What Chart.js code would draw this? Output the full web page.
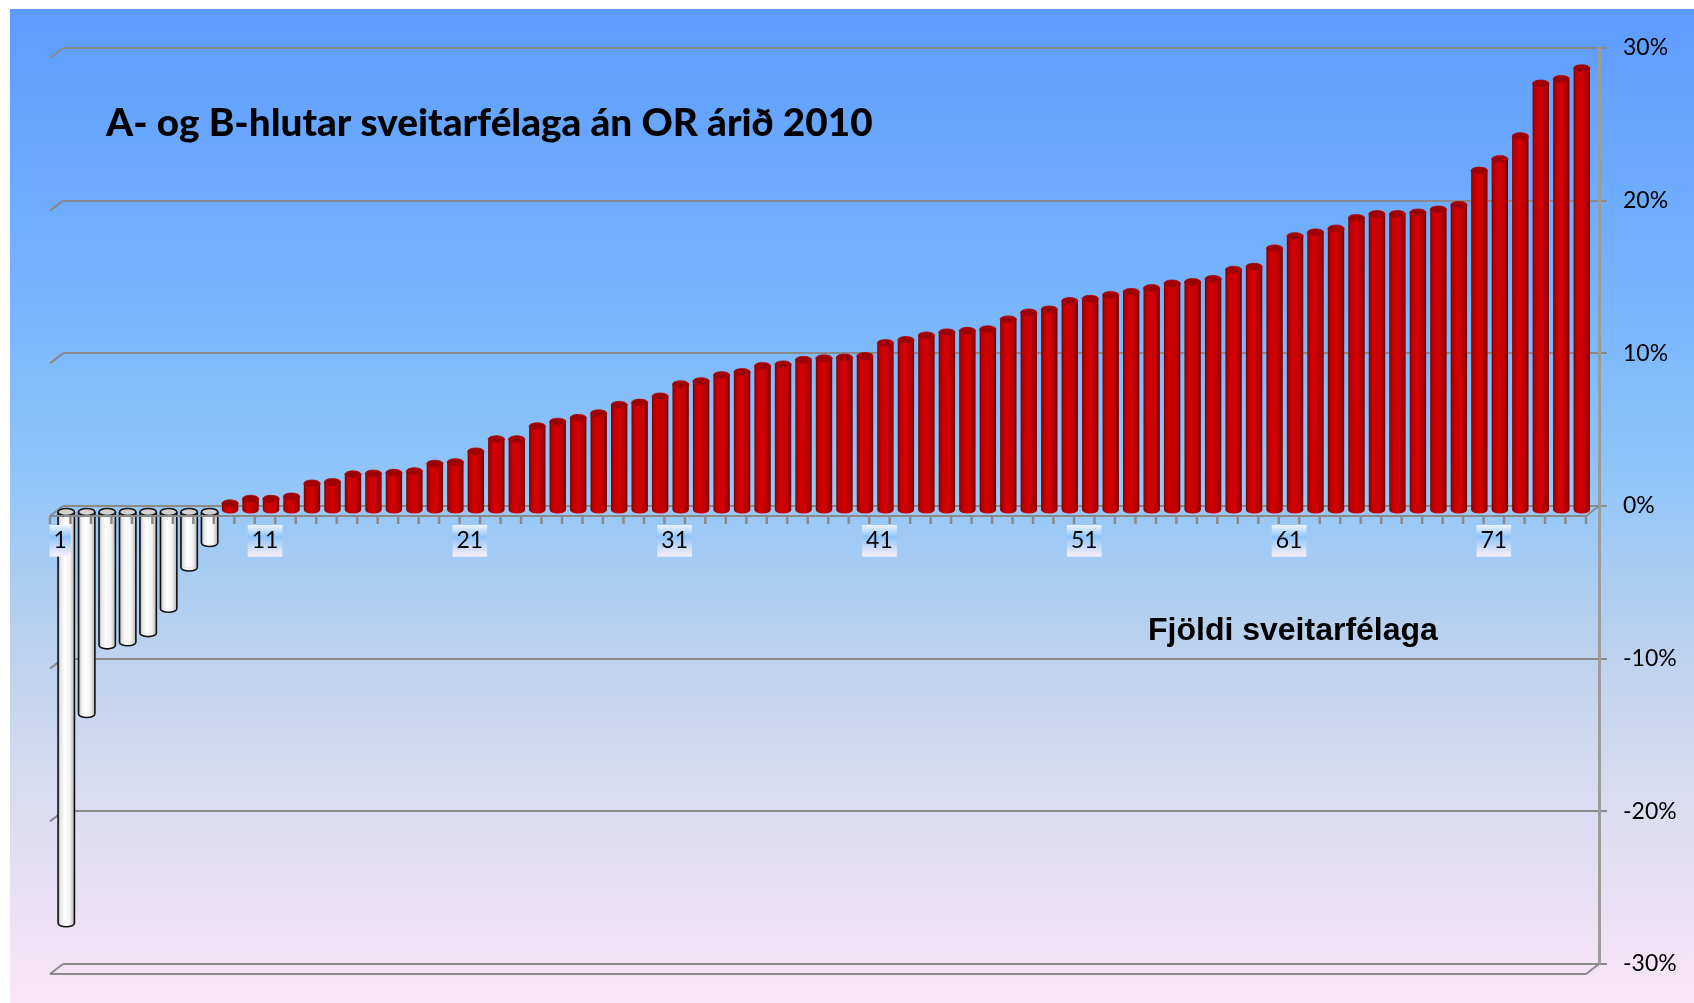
<!DOCTYPE html>
<html>
<head>
<meta charset="utf-8">
<script src="https://cdn.jsdelivr.net/npm/chart.js@4/dist/chart.umd.min.js"></script>
<style>
html,body{margin:0;padding:0;background:#fff;}
canvas{display:block;}
</style>
</head>
<body>
<canvas id="c" width="1694" height="1003"></canvas>
<script>
// ---------- DATA ----------
const categories = ['1','2','3','4','5','6','7','8','9','10','11','12','13','14','15','16','17','18','19','20',
  '21','22','23','24','25','26','27','28','29','30','31','32','33','34','35','36','37','38','39','40',
  '41','42','43','44','45','46','47','48','49','50','51','52','53','54','55','56','57','58','59','60',
  '61','62','63','64','65','66','67','68','69','70','71','72','73','74','75'];
const values = [-27.0, -13.3, -8.8, -8.6, -8.0, -6.4, -3.7, -2.1,
  0.5, 0.8, 0.8, 0.95, 1.8, 1.9, 2.4, 2.45, 2.5, 2.6, 3.1, 3.2,
  3.9, 4.7, 4.7, 5.55, 5.85, 6.1, 6.4, 6.95, 7.1, 7.5,
  8.3, 8.5, 8.9, 9.1, 9.5, 9.6, 9.9, 10.0, 10.05, 10.15,
  11.0, 11.2, 11.5, 11.7, 11.8, 11.9, 12.55, 13.0, 13.2, 13.75,
  13.9, 14.15, 14.35, 14.6, 14.9, 15.0, 15.2, 15.8, 16.0, 17.2,
  18.0, 18.25, 18.5, 19.2, 19.45, 19.45, 19.55, 19.75, 20.05, 22.3,
  23.05, 24.55, 28.0, 28.3, 29.0];
const shownTickLabels = ['1','11','21','31','41','51','61','71'];
const yMin = -30, yMax = 30, yStep = 10;
const titleText = 'A- og B-hlutar sveitarfélaga án OR árið 2010';
const xTitleText = 'Fjöldi sveitarfélaga';

// ---------- STYLE ----------
const DEPTH_X = 13, DEPTH_Y = 10;   // back wall -> front edge offset
const BAR_DX = -7, BAR_DY = 5;      // bars sit half-way in depth
const GRID = '#8a8a8a';
const BAR_FRACTION = 0.8;

function barHalfWidth(chart) {
  const xs = chart.scales.x;
  return xs.width / categories.length * BAR_FRACTION / 2;
}

function barFill(c) {
  const chart = c.chart;
  const xs = chart.scales.x;
  const v = c.raw;
  if (!xs || c.dataIndex == null || !chart.chartArea) return v < 0 ? '#ffffff' : '#c80000';
  const cx = xs.getPixelForValue(c.dataIndex);
  const hw = barHalfWidth(chart);
  const g = chart.ctx.createLinearGradient(cx - hw, 0, cx + hw, 0);
  if (v < 0) {
    g.addColorStop(0, '#a8a8a8');
    g.addColorStop(0.15, '#e6e6e6');
    g.addColorStop(0.4, '#ffffff');
    g.addColorStop(0.72, '#f3f3f3');
    g.addColorStop(1, '#b4b4b4');
  } else {
    g.addColorStop(0, '#7a0000');
    g.addColorStop(0.14, '#b80000');
    g.addColorStop(0.38, '#d30000');
    g.addColorStop(0.66, '#c70000');
    g.addColorStop(0.88, '#a20000');
    g.addColorStop(1, '#690000');
  }
  return g;
}

const backgroundPlugin = {
  id: 'bg',
  beforeDraw(chart) {
    const ctx = chart.ctx;
    const W = chart.width, H = chart.height;
    ctx.save();
    ctx.fillStyle = '#ffffff';
    ctx.fillRect(0, 0, W, H);
    const g = ctx.createLinearGradient(0, 9, 0, H);
    g.addColorStop(0, '#5d9cff');
    g.addColorStop(0.3, '#77b5fd');
    g.addColorStop(0.48, '#92c6f9');
    g.addColorStop(0.62, '#b6d0ee');
    g.addColorStop(0.78, '#d8dbf0');
    g.addColorStop(1, '#f9e5f6');
    ctx.fillStyle = g;
    ctx.fillRect(10, 9, W - 10, H - 9);
    ctx.restore();
  }
};

function line(ctx, x1, y1, x2, y2) {
  ctx.beginPath(); ctx.moveTo(x1, y1); ctx.lineTo(x2, y2); ctx.stroke();
}

const frame3dPlugin = {
  id: 'frame3d',
  beforeDatasetsDraw(chart) {
    const {ctx, chartArea: a, scales: {y}} = chart;
    ctx.save();
    ctx.strokeStyle = GRID;
    ctx.lineWidth = 2;
    for (let v = yMin; v <= yMax; v += yStep) {
      const py = y.getPixelForValue(v);
      line(ctx, a.left, py, a.left - DEPTH_X, py + DEPTH_Y);
    }
    // bottom floor
    const yb = y.getPixelForValue(yMin);
    line(ctx, a.left - DEPTH_X, yb + DEPTH_Y, a.right - DEPTH_X, yb + DEPTH_Y);
    line(ctx, a.right, yb, a.right - DEPTH_X, yb + DEPTH_Y);
    ctx.restore();
    ctx.save();
    ctx.translate(BAR_DX, BAR_DY);
  },
  afterDatasetsDraw(chart) {
    const {ctx, chartArea: a, scales: {x, y}} = chart;
    const meta = chart.getDatasetMeta(0);
    meta.data.forEach((el, i) => {
      const p = el.getProps(['x', 'y', 'base', 'width'], true);
      const hw = p.width / 2;
      const ry = 3.5;
      const top = Math.min(p.y, p.base), bot = Math.max(p.y, p.base);
      const neg = values[i] < 0;
      // rounded bottom
      ctx.beginPath();
      ctx.ellipse(p.x, bot, hw, ry, 0, 0, Math.PI);
      ctx.fillStyle = el.options.backgroundColor;
      ctx.fill();
      if (neg) {
        ctx.strokeStyle = '#111';
        ctx.lineWidth = 1.6;
        ctx.beginPath();
        ctx.moveTo(p.x - hw, top);
        ctx.lineTo(p.x - hw, bot);
        ctx.ellipse(p.x, bot, hw, ry, 0, Math.PI, 0, true);
        ctx.lineTo(p.x + hw, top);
        ctx.stroke();
        ctx.beginPath();
        ctx.ellipse(p.x, top, hw, ry, 0, 0, Math.PI * 2);
        ctx.fillStyle = '#d2d2d2';
        ctx.fill();
        ctx.stroke();
      } else {
        ctx.beginPath();
        ctx.ellipse(p.x, top, hw, ry, 0, 0, Math.PI * 2);
        ctx.fillStyle = '#9c0000';
        ctx.fill();
        ctx.strokeStyle = '#b40000';
        ctx.lineWidth = 0.8;
        ctx.stroke();
      }
    });
    ctx.restore();

    // front edge of the zero floor with tick marks (in front of the bars)
    ctx.save();
    ctx.strokeStyle = GRID;
    ctx.lineWidth = 2;
    const y0 = y.getPixelForValue(0);
    line(ctx, a.left - DEPTH_X, y0 + DEPTH_Y, a.right - DEPTH_X, y0 + DEPTH_Y);
    line(ctx, a.right, y0, a.right - DEPTH_X, y0 + DEPTH_Y);
    const slot = x.width / categories.length;
    ctx.lineWidth = 2.5;
    for (let i = 0; i <= categories.length; i++) {
      const px = x.getPixelForValue(0) - slot / 2 + i * slot - DEPTH_X;
      line(ctx, px, y0 + DEPTH_Y, px, y0 + DEPTH_Y + 8);
    }
    ctx.restore();
  },
  afterDraw(chart) {
    const ctx = chart.ctx;
    ctx.save();
    ctx.fillStyle = '#000';
    ctx.textBaseline = 'alphabetic';
    ctx.textAlign = 'left';
    ctx.font = '900 36px Lato';
    const w = ctx.measureText(titleText).width;
    const size = 36 * 767 / w;
    ctx.font = '900 ' + size.toFixed(2) + 'px Lato';
    ctx.fillText(titleText, 106, 136);
    ctx.font = 'bold 32px "Liberation Sans", Arial, sans-serif';
    const w2 = ctx.measureText(xTitleText).width;
    const size2 = 32 * 290 / w2;
    ctx.font = 'bold ' + size2.toFixed(2) + 'px "Liberation Sans", Arial, sans-serif';
    ctx.fillText(xTitleText, 1148, 640);
    ctx.restore();
  }
};

const chart = new Chart(document.getElementById('c'), {
  type: 'bar',
  data: {
    labels: categories,
    datasets: [{
      data: values,
      backgroundColor: barFill,
      borderWidth: 0,
      barPercentage: 1.0,
      categoryPercentage: BAR_FRACTION,
      clip: false
    }]
  },
  options: {
    responsive: false,
    devicePixelRatio: 1,
    animation: false,
    events: [],
    layout: {padding: {left: 63, top: 48, bottom: 39, right: 0}},
    plugins: {legend: {display: false}, tooltip: {enabled: false}, title: {display: false}},
    scales: {
      x: {
        position: {y: 0},
        grid: {display: false, drawTicks: false},
        border: {display: false},
        ticks: {
          autoSkip: false,
          maxRotation: 0,
          minRotation: 0,
          padding: 21,
          labelOffset: -DEPTH_X,
          z: 2,
          color: '#000',
          font: {family: 'Lato', size: 23},
          callback: function (value) {
            const l = this.getLabelForValue(value);
            return shownTickLabels.includes(l) ? l : '';
          },
          showLabelBackdrop: (c) => shownTickLabels.includes(categories[c.index]),
          backdropPadding: {left: 4, right: 4, top: 2, bottom: 2},
          backdropColor: (c) => {
            // label text is drawn in a translated frame whose origin is the label anchor
            const g = c.chart.ctx.createLinearGradient(0, -3, 0, 29);
            g.addColorStop(0, '#f6f9ff');
            g.addColorStop(0.4, '#8fc4fb');
            g.addColorStop(1, '#f8f0fa');
            return g;
          }
        }
      },
      y: {
        position: 'right',
        min: yMin,
        max: yMax,
        afterFit: (s) => { s.width = 95; },
        grid: {color: GRID, lineWidth: 2, tickLength: 8, drawTicks: true},
        border: {display: true, color: '#9c9c9c', width: 3},
        ticks: {
          stepSize: yStep,
          padding: 16,
          color: '#000',
          font: {family: 'Lato', size: 23},
          callback: (v) => v + '%'
        }
      }
    }
  },
  plugins: [backgroundPlugin, frame3dPlugin]
});
</script>
</body>
</html>
